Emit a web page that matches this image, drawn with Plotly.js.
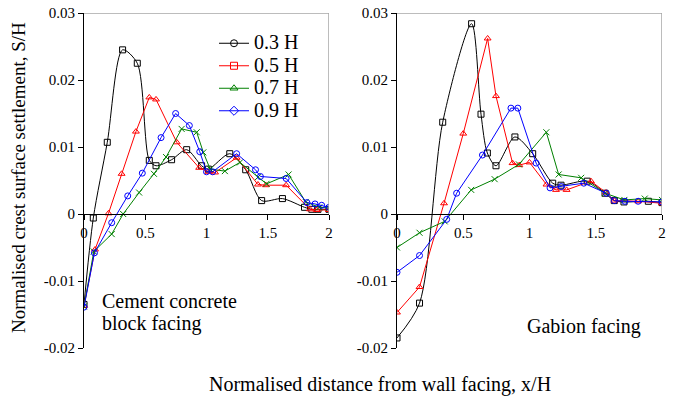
<!DOCTYPE html>
<html>
<head>
<meta charset="utf-8">
<script src="https://cdn.plot.ly/plotly-3.0.1.min.js"></script>
<style>html,body{margin:0;padding:0;background:#fff}#chart{width:673px;height:397px}</style>
</head>
<body>
<div id="chart"></div>
<script>
// ---- Data ----
var seriesNames = ['0.3 H', '0.5 H', '0.7 H', '0.9 H'];

// Left panel: Cement concrete block facing
var xL03 = [0, 0.076, 0.19, 0.315, 0.435, 0.533, 0.588, 0.715, 0.838, 0.96, 1.015, 1.19, 1.32, 1.45, 1.62, 1.80, 1.86, 1.91, 2.0];
var yL03 = [-0.0135, -0.0006, 0.0107, 0.0245, 0.0225, 0.0080, 0.0072, 0.0081, 0.0096, 0.0072, 0.0067, 0.0090, 0.0066, 0.0020, 0.0023, 0.0010, 0.0007, 0.0007, 0.0007];
var xL05 = [0, 0.09, 0.2, 0.307, 0.424, 0.533, 0.588, 0.757, 0.94, 1.015, 1.07, 1.246, 1.42, 1.485, 1.65, 1.845, 1.9, 2.0];
var yL05 = [-0.0137, -0.0053, 0.0001, 0.0060, 0.0123, 0.0174, 0.0171, 0.0107, 0.0069, 0.0063, 0.0062, 0.0084, 0.0044, 0.0043, 0.0043, 0.0007, 0.0006, 0.0006];
var xL07 = [0, 0.08, 0.226, 0.32, 0.45, 0.571, 0.67, 0.797, 0.92, 0.974, 1.03, 1.15, 1.273, 1.42, 1.49, 1.67, 1.81, 1.92, 2.0];
var yL07 = [-0.0138, -0.0056, -0.0030, 0.0000, 0.0032, 0.0060, 0.0085, 0.0127, 0.0122, 0.0092, 0.0067, 0.0064, 0.0077, 0.0055, 0.0045, 0.0059, 0.0018, 0.0010, 0.0009];
var xL09 = [0, 0.085, 0.226, 0.357, 0.476, 0.629, 0.748, 0.86, 0.945, 1.0, 1.05, 1.246, 1.40, 1.44, 1.65, 1.82, 1.886, 1.94, 2.0];
var yL09 = [-0.0139, -0.0058, -0.0013, 0.0027, 0.0061, 0.0114, 0.0150, 0.0132, 0.0093, 0.0063, 0.0063, 0.0090, 0.0066, 0.0056, 0.0053, 0.0017, 0.0015, 0.0013, 0.0010];

// Right panel: Gabion facing
var xR03 = [0, 0.17, 0.345, 0.563, 0.634, 0.682, 0.747, 0.89, 1.024, 1.175, 1.238, 1.436, 1.57, 1.64, 1.713, 1.897, 2.0];
var yR03 = [-0.0185, -0.0133, 0.0137, 0.0284, 0.0149, 0.0091, 0.0072, 0.0115, 0.0090, 0.0046, 0.0043, 0.0049, 0.0031, 0.0020, 0.0018, 0.0019, 0.0017];
var xR05 = [0, 0.17, 0.355, 0.5, 0.684, 0.747, 0.872, 0.923, 1.0, 1.128, 1.2, 1.28, 1.464, 1.577, 1.64, 1.82, 2.0];
var yR05 = [-0.0147, -0.0109, 0.0016, 0.0120, 0.0262, 0.0176, 0.0076, 0.0073, 0.0077, 0.0044, 0.0036, 0.0036, 0.0049, 0.0032, 0.0020, 0.0019, 0.0016];
var xR07 = [0, 0.17, 0.36, 0.56, 0.737, 0.92, 1.127, 1.22, 1.39, 1.57, 1.716, 1.87, 2.0];
var yR07 = [-0.0050, -0.0028, -0.0011, 0.0036, 0.0052, 0.0074, 0.0122, 0.0059, 0.0054, 0.0031, 0.0021, 0.0023, 0.0021];
var xR09 = [0, 0.17, 0.375, 0.45, 0.645, 0.86, 0.912, 1.05, 1.155, 1.24, 1.41, 1.58, 1.64, 1.72, 1.82, 2.0];
var yR09 = [-0.0087, -0.0062, -0.0008, 0.0031, 0.0088, 0.0158, 0.0158, 0.0076, 0.0039, 0.0041, 0.0046, 0.0031, 0.0020, 0.0019, 0.0019, 0.0018];

var yTickVals = [-0.02, -0.01, 0, 0.01, 0.02, 0.03];
var yTickText = ['-0.02', '-0.01', '0', '0.01', '0.02', '0.03'];
var xTickVals = [0, 0.5, 1, 1.5, 2];
var xTickText = ['0', '0.5', '1', '1.5', '2'];

var panelLabelLines = ['Cement concrete', 'block facing', 'Gabion facing'];
var xTitle = 'Normalised distance from wall facing, x/H';
var yTitle = 'Normalised crest surface settlement, S/H';

// ---- Styles ----
var colors = ['#000000', '#ff0000', '#008000', '#0000ff'];
var plotSymbols = ['square-open', 'triangle-up-open', 'x-thin-open', 'circle-open'];
var legendSymbols = ['circle-open', 'square-open', 'triangle-up-open', 'diamond-open'];
var shapes = ['spline', 'linear', 'linear', 'linear'];

var W = 673, H = 397;
var FONT = 'Liberation Serif, Times New Roman, serif';
var yDom = [1 - 348 / H, 1 - 13 / H];
var zeroPos = yDom[0] + (0 - (-0.02)) / 0.05 * (yDom[1] - yDom[0]);

var leftX = [xL03, xL05, xL07, xL09], leftY = [yL03, yL05, yL07, yL09];
var rightX = [xR03, xR05, xR07, xR09], rightY = [yR03, yR05, yR07, yR09];

var traces = [];
function addPanel(xs, ys, xa, ya) {
  for (var i = 0; i < 4; i++) {
    traces.push({
      x: xs[i], y: ys[i], xaxis: xa, yaxis: ya,
      type: 'scatter', mode: 'lines+markers', showlegend: false,
      name: seriesNames[i],
      line: {color: colors[i], width: 1, shape: shapes[i], smoothing: 0.8},
      marker: {symbol: plotSymbols[i], size: 6, color: colors[i], line: {color: colors[i], width: 1}}
    });
  }
}
addPanel(leftX, leftY, 'x', 'y');
addPanel(rightX, rightY, 'x2', 'y2');
// legend entries (legend symbols differ from plotted symbols in the reference)
for (var i = 0; i < 4; i++) {
  traces.push({
    x: [null], y: [null], xaxis: 'x', yaxis: 'y',
    type: 'scatter', mode: 'lines+markers',
    name: '<span style="font-size:20px">' + seriesNames[i] + '</span>', showlegend: true,
    line: {color: colors[i], width: 1},
    marker: {symbol: legendSymbols[i], size: 7, color: colors[i], line: {color: colors[i], width: 1}}
  });
}

function yAxis(anchor) {
  return {
    domain: yDom, anchor: anchor, range: [-0.02, 0.03],
    tickvals: yTickVals, ticktext: yTickText,
    showline: true, linecolor: '#000', linewidth: 1,
    ticks: 'outside', ticklen: 5, tickwidth: 1, tickcolor: '#000',
    showgrid: false, zeroline: false,
    tickfont: {family: FONT, size: 15, color: '#000'}
  };
}
function xAxis(dom) {
  return {
    domain: dom, anchor: 'free', position: zeroPos, range: [0, 2],
    tickvals: xTickVals, ticktext: xTickText,
    showline: true, linecolor: '#000', linewidth: 1,
    ticks: 'outside', ticklen: 5, tickwidth: 1, tickcolor: '#000',
    showgrid: false, zeroline: false,
    tickfont: {family: FONT, size: 15, color: '#000'}
  };
}

var frame = [];
[['x', 'y'], ['x2', 'y2']].forEach(function (p) {
  frame.push({type: 'line', xref: p[0], yref: p[1], x0: 0, x1: 2, y0: 0.03, y1: 0.03, line: {color: '#a6a6a6', width: 1.5}});
  frame.push({type: 'line', xref: p[0], yref: p[1], x0: 2, x1: 2, y0: 0, y1: 0.03, line: {color: '#a6a6a6', width: 1.5}});
});

function note(text, px, py, anchor, size, angle) {
  return {xref: 'paper', yref: 'paper', x: px / W, y: 1 - py / H, xanchor: anchor, yanchor: 'middle',
          text: text, showarrow: false, textangle: angle || 0,
          font: {family: FONT, size: size, color: '#000'}};
}

var layout = {
  width: W, height: H,
  margin: {l: 0, r: 0, t: 0, b: 0},
  paper_bgcolor: '#fff', plot_bgcolor: 'rgba(0,0,0,0)',
  showlegend: true,
  legend: {
    x: 214 / W, y: 1 - 27 / H, xanchor: 'left', yanchor: 'top',
    bgcolor: 'rgba(0,0,0,0)', borderwidth: 0,
    font: {family: FONT, size: 15, color: '#000'},
    tracegroupgap: 0
  },
  xaxis: xAxis([84 / W, 329 / W]),
  yaxis: yAxis('x'),
  xaxis2: xAxis([397 / W, 662 / W]),
  yaxis2: yAxis('x2'),
  shapes: frame,
  annotations: [
    note(panelLabelLines[0], 100, 301, 'left', 20),
    note(panelLabelLines[1], 100, 323, 'left', 20),
    note(panelLabelLines[2], 584, 326, 'center', 20),
    note(xTitle, 380, 384, 'center', 20),
    note(yTitle, 18, 178, 'center', 19, -90)
  ]
};

Plotly.newPlot('chart', traces, layout, {displayModeBar: false, staticPlot: true});
</script>
</body>
</html>
